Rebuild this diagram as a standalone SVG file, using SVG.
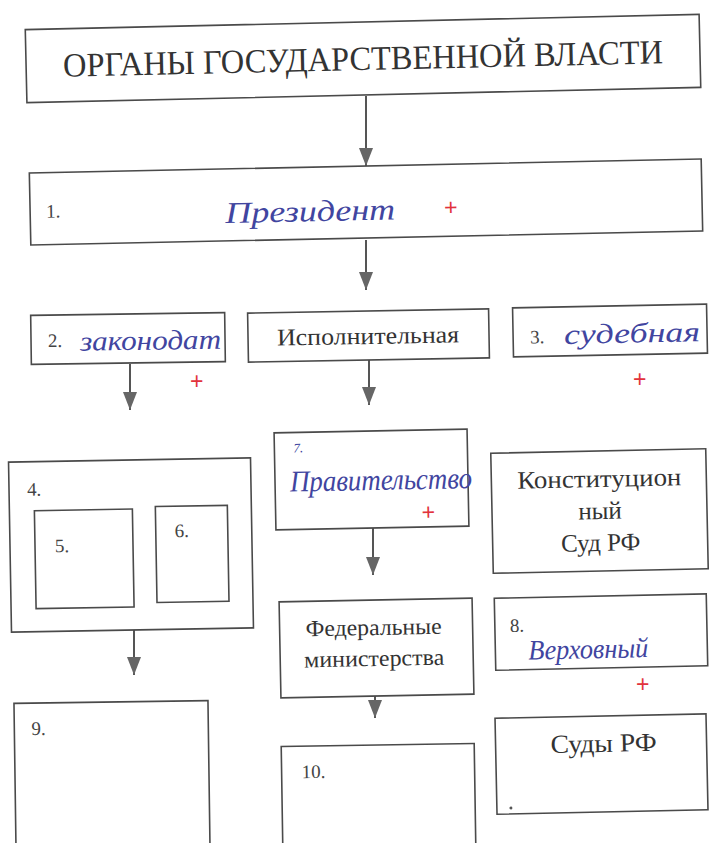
<svg xmlns="http://www.w3.org/2000/svg" width="710" height="843" viewBox="0 0 710 843">
<defs>
<marker id="ah" viewBox="0 0 18 14" refX="18" refY="7" markerWidth="18" markerHeight="14" markerUnits="userSpaceOnUse" orient="auto">
<path d="M0,0 L18,7 L0,14 Z" fill="#666"/>
</marker>
<style>
.box{fill:#fff;stroke:#4a4a4a;stroke-width:1.6}
.t{font-family:"Liberation Serif","Times New Roman",serif;fill:#333}
.num{font-family:"Liberation Serif","Times New Roman",serif;fill:#444;font-size:19px}
.hw{font-family:"Liberation Serif","Times New Roman",serif;font-style:italic;fill:#4145a0}
.plus{font-family:"Liberation Sans",Arial,sans-serif;fill:#e2323c;font-size:23px}
.conn line{stroke:#555;stroke-width:2}
</style>
</defs>
<rect width="710" height="843" fill="#fff"/>

<g id="connectors" class="conn">
<line x1="366" y1="96" x2="366" y2="166" marker-end="url(#ah)"/>
<line x1="366" y1="240" x2="366" y2="290" marker-end="url(#ah)"/>
<line x1="130" y1="364" x2="130" y2="410" marker-end="url(#ah)"/>
<line x1="369" y1="359" x2="369" y2="405" marker-end="url(#ah)"/>
<line x1="373" y1="528" x2="373" y2="575" marker-end="url(#ah)"/>
<line x1="134" y1="630" x2="134" y2="675" marker-end="url(#ah)"/>
<line x1="375" y1="696" x2="375" y2="718" marker-end="url(#ah)"/>
</g>

<g id="title" transform="rotate(-1.3 363 58)">
<rect class="box" x="26" y="22" width="674" height="73"/>
<text class="t" x="363" y="70" font-size="34" text-anchor="middle" textLength="600" lengthAdjust="spacingAndGlyphs">ОРГАНЫ ГОСУДАРСТВЕННОЙ ВЛАСТИ</text>
</g>

<g id="n1" transform="rotate(-1.2 366 202)">
<rect class="box" x="30" y="166" width="672" height="72"/>
<text class="num" x="46" y="211">1.</text>
<text class="hw" x="225" y="220" font-size="30" textLength="170" lengthAdjust="spacingAndGlyphs">Президент</text>
<text class="plus" x="444" y="217">+</text>
</g>

<g id="n2" transform="rotate(-0.8 128 338)">
<rect class="box" x="31" y="314" width="194" height="49"/>
<text class="num" x="48" y="346">2.</text>
<text class="hw" x="80" y="350" font-size="28" textLength="141" lengthAdjust="spacingAndGlyphs">законодат</text>
</g>
<text class="plus" x="190" y="389">+</text>

<g id="nisp" transform="rotate(-1 368 335)">
<rect class="box" x="248" y="311" width="241" height="49"/>
<text class="t" x="368" y="344" font-size="24" text-anchor="middle" textLength="182" lengthAdjust="spacingAndGlyphs">Исполнительная</text>
</g>

<g id="n3" transform="rotate(-1.1 610 330)">
<rect class="box" x="513" y="306" width="194" height="49"/>
<text class="num" x="530" y="342">3.</text>
<text class="hw" x="564" y="343" font-size="28" textLength="136" lengthAdjust="spacingAndGlyphs">судебная</text>
</g>
<text class="plus" x="633" y="387">+</text>

<g id="n4" transform="rotate(-1 131 545)">
<rect class="box" x="10" y="460" width="242" height="170"/>
<text class="num" x="28" y="494">4.</text>
<g id="n5">
<rect class="box" x="35" y="509" width="98" height="98"/>
<text class="num" x="55" y="551">5.</text>
</g>
<g id="n6">
<rect class="box" x="156" y="507" width="72" height="96"/>
<text class="num" x="175" y="538">6.</text>
</g>
</g>

<g id="n7" transform="rotate(-1.1 371 480)">
<rect class="box" x="275" y="431" width="193" height="97"/>
<text class="hw" x="294" y="451" font-size="13">7.</text>
<text class="hw" x="290" y="490" font-size="30" textLength="182" lengthAdjust="spacingAndGlyphs">Правительство</text>
<text class="plus" x="421" y="521">+</text>
</g>

<g id="nks" transform="rotate(-1.2 600 511)">
<rect class="box" x="492" y="451" width="215" height="120"/>
<text class="t" x="600" y="487" font-size="25" text-anchor="middle" textLength="164" lengthAdjust="spacingAndGlyphs">Конституцион</text>
<text class="t" x="600" y="519" font-size="25" text-anchor="middle">ный</text>
<text class="t" x="600" y="551" font-size="25" text-anchor="middle">Суд РФ</text>
</g>

<g id="nfed" transform="rotate(-1.1 376 648)">
<rect class="box" x="280" y="600" width="193" height="96"/>
<text class="t" x="374" y="635" font-size="23" text-anchor="middle" textLength="136" lengthAdjust="spacingAndGlyphs">Федеральные</text>
<text class="t" x="374" y="666" font-size="23" text-anchor="middle" textLength="140" lengthAdjust="spacingAndGlyphs">министерства</text>
</g>

<g id="n8" transform="rotate(-1.2 602 632)">
<rect class="box" x="495" y="596" width="212" height="72"/>
<text class="num" x="510" y="630">8.</text>
<text class="hw" x="528" y="658" font-size="28" textLength="120" lengthAdjust="spacingAndGlyphs">Верховный</text>
</g>
<text class="plus" x="636" y="692">+</text>

<g id="n9" transform="rotate(-0.8 112 776)">
<rect class="box" x="15" y="702" width="194" height="160"/>
<text class="num" x="32" y="734">9.</text>
</g>

<g id="n10" transform="rotate(-0.9 378 796)">
<rect class="box" x="282" y="745" width="193" height="120"/>
<text class="num" x="302" y="777">10.</text>
</g>

<g id="nsudy" transform="rotate(-1.2 602 764)">
<rect class="box" x="496" y="716" width="211" height="96"/>
<text class="t" x="604" y="752" font-size="26" text-anchor="middle" textLength="106" lengthAdjust="spacingAndGlyphs">Суды РФ</text>
<circle cx="510" cy="806" r="1.5" fill="#555"/>
</g>
</svg>
